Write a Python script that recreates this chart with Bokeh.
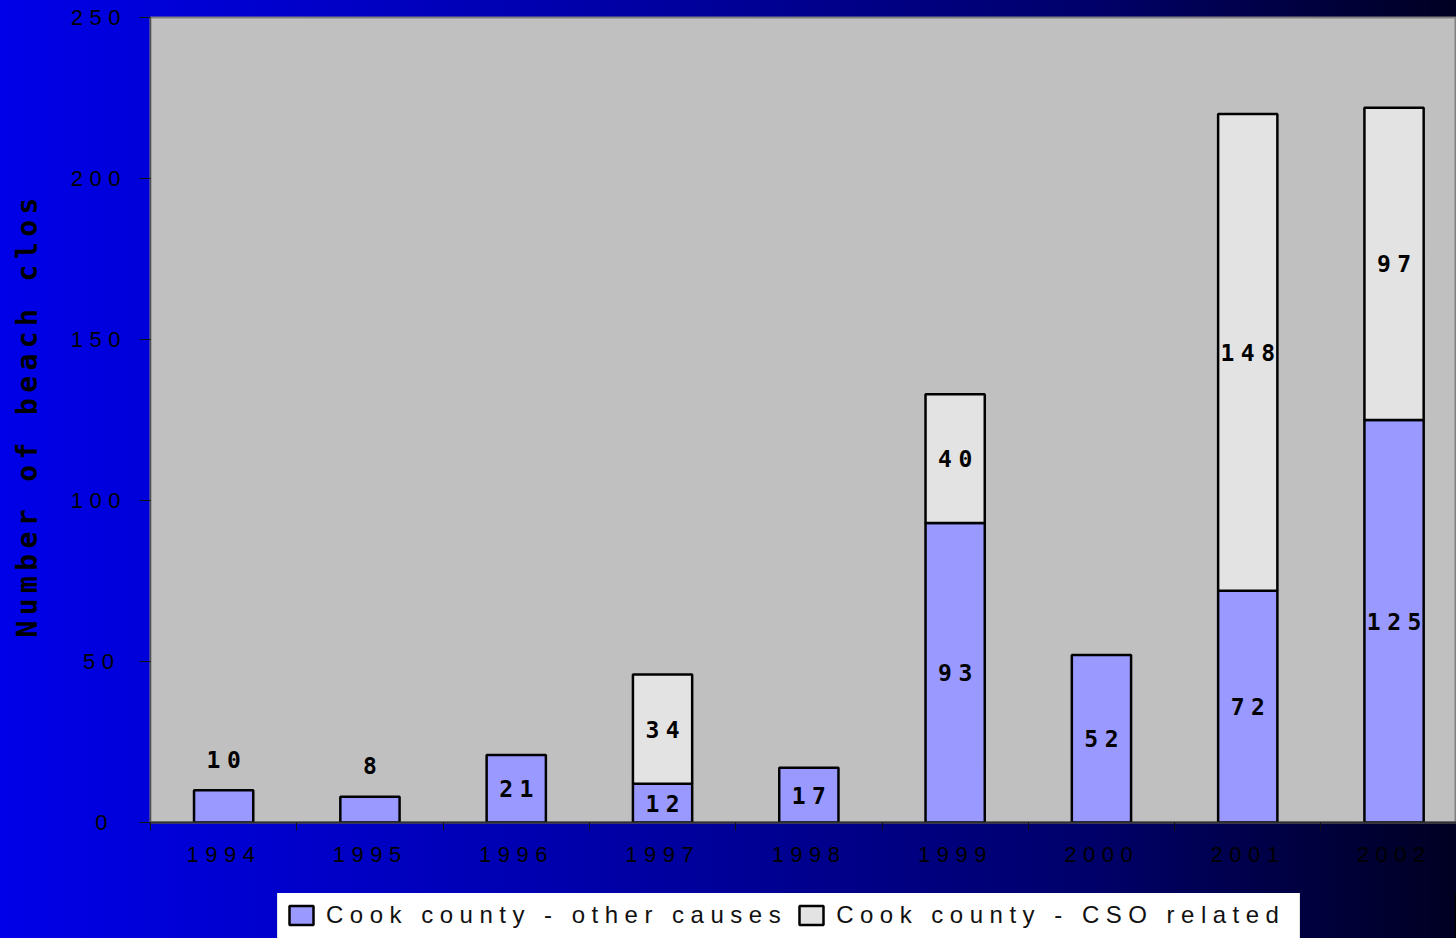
import math
from bokeh.plotting import figure
from bokeh.layouts import row, column
from bokeh.models import (ColumnDataSource, FixedTicker, Range1d, Legend, LegendItem,
                          Label, CustomJSTickFormatter)
from bokeh.core.properties import value
from bokeh.embed import file_html
from bokeh.resources import INLINE

# ---- data ----
years = [1994, 1995, 1996, 1997, 1998, 1999, 2000, 2001, 2002]
other_causes = [10, 8, 21, 12, 17, 93, 52, 72, 125]
cso_related = [0, 0, 0, 34, 0, 40, 0, 148, 97]
y_ticks = [0, 50, 100, 150, 200, 250]
series_names = ["Cook county - other causes", "Cook county - CSO related"]
y_title = "Number of beach clos"

# ---- layout constants ----
TOTAL_W, TOTAL_H = 1456, 938
TITLE_W = 60
LEG_H = 45
MAIN_W, MAIN_H = TOTAL_W - TITLE_W, TOTAL_H - LEG_H
LEFT, TOP, BOTTOM = 90, 17, 71
PITCH = 146.3
LS_MAIN, LS_TITLE, LS_LEG = 6.5, 5.4, 6.5
frame_w = MAIN_W - LEFT
x0 = years[0] - 0.5
BAR_W = 0.405

other_style = dict(fill_color="#9999FF", line_color="black", line_width=2.5)
cso_style = dict(fill_color="#E3E3E3", line_color="black", line_width=2.5)

# ---- main chart ----
p = figure(width=MAIN_W, height=MAIN_H, output_backend="svg", toolbar_location=None,
           x_range=Range1d(x0, x0 + frame_w / PITCH), y_range=Range1d(0, 250),
           min_border_left=LEFT, min_border_right=0, min_border_top=TOP,
           min_border_bottom=BOTTOM)
p.styles = {"letter-spacing": f"{LS_MAIN}px"}
p.border_fill_alpha = 0
p.background_fill_color = "#C0C0C0"
p.outline_line_color = "#808080"
p.outline_line_width = 2
p.xgrid.visible = False
p.ygrid.visible = False

oth = ColumnDataSource(dict(x=years, bottom=[0] * len(years), top=other_causes))
cx, cb, ct = [], [], []
for yr, o, c in zip(years, other_causes, cso_related):
    if c > 0:
        cx.append(yr); cb.append(o); ct.append(o + c)
cso = ColumnDataSource(dict(x=cx, bottom=cb, top=ct))

r1 = p.vbar(x="x", bottom="bottom", top="top", width=BAR_W, source=oth, **other_style)
r2 = p.vbar(x="x", bottom="bottom", top="top", width=BAR_W, source=cso, **cso_style)

# data labels (centred in segment; above the bar when the segment is too small)
px_per_unit = (MAIN_H - TOP - BOTTOM) / 250
in_x, in_y, in_t, up_x, up_y, up_t = [], [], [], [], [], []
for yr, o in zip(years, other_causes):
    if o * px_per_unit < 35:
        up_x.append(yr); up_y.append(o); up_t.append(str(o))
    else:
        in_x.append(yr); in_y.append(o / 2); in_t.append(str(o))
for yr, o, c in zip(years, other_causes, cso_related):
    if c > 0:
        in_x.append(yr); in_y.append(o + c / 2); in_t.append(str(c))

def ls_shift(texts):
    return [-(len(t) - 1) * LS_MAIN / 2 for t in texts]

lab_font = dict(text_font=value("DejaVu Sans Mono"), text_font_style="bold",
                text_font_size="23px", text_color="black",
                text_align="center", text_baseline="middle")
p.text(source=ColumnDataSource(dict(x=in_x, y=in_y, t=in_t, dx=ls_shift(in_t))),
       x="x", y="y", text="t", x_offset="dx", **lab_font)
p.text(source=ColumnDataSource(dict(x=up_x, y=up_y, t=up_t, dx=ls_shift(up_t))),
       x="x", y="y", text="t", x_offset="dx", y_offset=-31, **lab_font)

# axes
xa = p.xaxis[0]
shift = ((len(str(years[0])) - 1) * LS_MAIN / 2 + 3) / PITCH
xa.ticker = FixedTicker(ticks=[y - shift for y in years],
                        minor_ticks=[y - 0.5 for y in years])
xa.formatter = CustomJSTickFormatter(code="return Math.round(tick).toString();")
xa.major_tick_out = 0
xa.major_tick_in = 0
xa.minor_tick_out = 8
xa.minor_tick_in = 0
xa.minor_tick_line_color = "#111111"
xa.axis_line_color = "#303030"
xa.axis_line_width = 2
xa.major_label_standoff = 16
xa.major_label_text_font = "Liberation Sans"
xa.major_label_text_font_size = "22px"
xa.major_label_text_color = "black"

ya = p.yaxis[0]
ya.ticker = FixedTicker(ticks=y_ticks)
ya.minor_tick_line_color = None
ya.major_tick_out = 11
ya.major_tick_in = 0
ya.major_tick_line_color = "#111111"
ya.axis_line_color = "#505050"
ya.major_label_standoff = 32
ya.major_label_text_font = "Liberation Sans"
ya.major_label_text_font_size = "22px"
ya.major_label_text_color = "black"

# ---- y title panel (its frame lines up with the chart frame) ----
tf = figure(width=TITLE_W, height=MAIN_H, output_backend="svg", toolbar_location=None,
            x_axis_type=None, y_axis_type=None, min_border=0,
            x_range=Range1d(0, 1), y_range=Range1d(0, 1))
tf.styles = {"letter-spacing": f"{LS_TITLE}px"}
tf.border_fill_alpha = 0
tf.background_fill_alpha = 0
tf.outline_line_color = None
tf.xgrid.visible = False
tf.ygrid.visible = False
tf.add_layout(Label(x=27, y=185, x_units="screen", y_units="screen", text=y_title,
                    angle=math.pi / 2, text_align="left", text_baseline="alphabetic",
                    text_font="DejaVu Sans Mono", text_font_style="bold",
                    text_font_size="28px", text_color="black"))

# ---- legend panel (swatches taken from the same sources, bars kept out of view) ----
lf = figure(width=TOTAL_W, height=LEG_H, output_backend="svg", toolbar_location=None,
            x_axis_type=None, y_axis_type=None, min_border=0,
            x_range=Range1d(0, 1), y_range=Range1d(0, 1))
lf.styles = {"letter-spacing": f"{LS_LEG}px"}
lf.border_fill_alpha = 0
lf.background_fill_alpha = 0
lf.outline_line_color = None
lf.xgrid.visible = False
lf.ygrid.visible = False
lr1 = lf.vbar(x="x", bottom="bottom", top="top", width=BAR_W, source=oth, **other_style)
lr2 = lf.vbar(x="x", bottom="bottom", top="top", width=BAR_W, source=cso, **cso_style)
legend = Legend(items=[LegendItem(label=series_names[0], renderers=[lr1]),
                       LegendItem(label=series_names[1], renderers=[lr2])],
                orientation="horizontal", location=(277, -1),
                padding=8, margin=0, spacing=9,
                glyph_width=30, glyph_height=24, label_height=30,
                label_width=455, label_standoff=10,
                label_text_font="Liberation Sans", label_text_font_size="24px",
                label_text_color="#111111",
                background_fill_color="white", background_fill_alpha=1,
                border_line_color="#C8C8C8", border_line_width=1)
lf.add_layout(legend, "center")

layout = column(row(tf, p), lf)
layout.styles = {"background": "linear-gradient(to right, #0000E8 0%, #0000C4 25%, "
                               "#000098 50%, #00006A 75%, #000022 100%)"}

open("out.html", "w").write(file_html(layout, INLINE))
